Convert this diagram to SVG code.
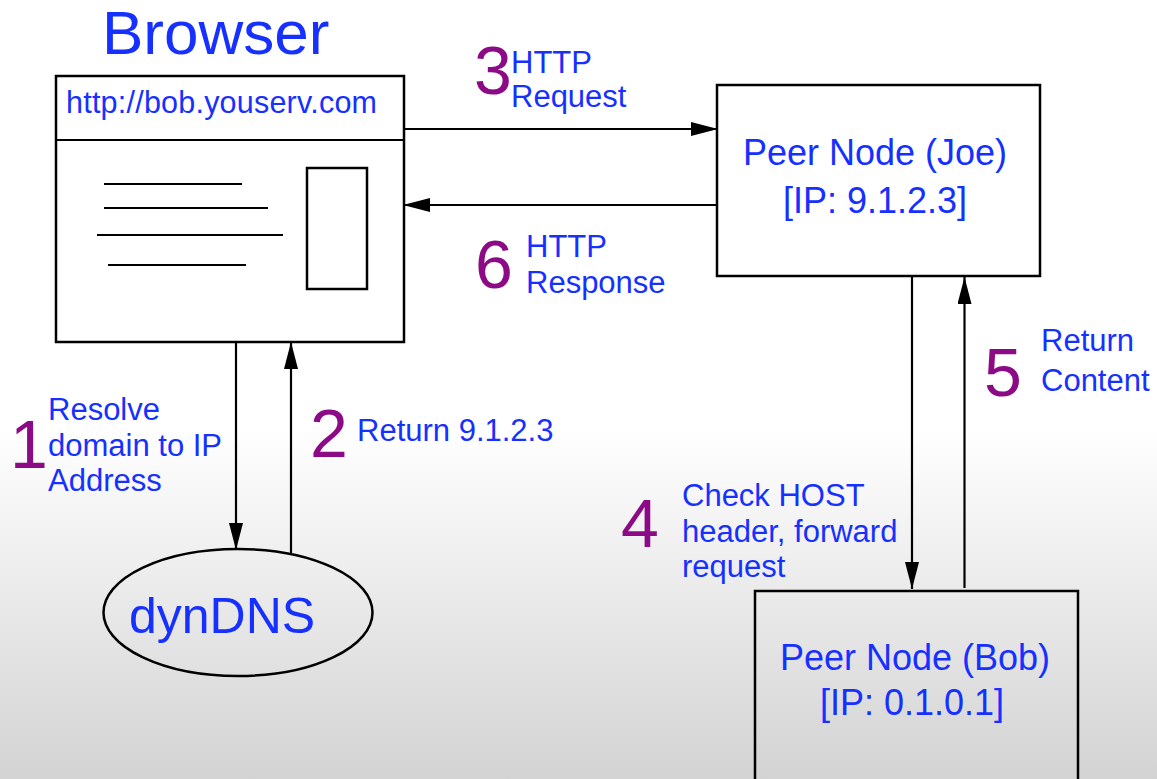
<svg xmlns="http://www.w3.org/2000/svg" width="1157" height="779" viewBox="0 0 1157 779">
<defs>
<linearGradient id="bg" x1="0" y1="0" x2="0" y2="779" gradientUnits="userSpaceOnUse">
<stop offset="0" stop-color="#ffffff"/>
<stop offset="0.55" stop-color="#ffffff"/>
<stop offset="1" stop-color="#d3d3d3"/>
</linearGradient>
<marker id="ah" markerUnits="userSpaceOnUse" markerWidth="28" markerHeight="14" refX="27" refY="7" orient="auto">
<path d="M0,0 L27,7 L0,14 z" fill="#000"/>
</marker>
<style>
.box{fill:none;stroke:#000;stroke-width:2.5}
.ln{stroke:#000;stroke-width:2.2;fill:none}
.con{stroke:#000;stroke-width:2.2;fill:none;marker-end:url(#ah)}
.t{font-family:"Liberation Sans",Arial,sans-serif;fill:#1630ff}
.lbl{font-family:"Liberation Sans",Arial,sans-serif;fill:#1630ff;font-size:31px}
.num{font-family:"Liberation Sans",Arial,sans-serif;fill:#8c0a86;font-size:68px}
</style>
</defs>
<rect x="0" y="0" width="1157" height="779" fill="url(#bg)"/>
<g id="browser">
<text class="t" x="102" y="54" font-size="62">Browser</text>
<rect x="56" y="76" width="348" height="266" fill="#fff" stroke="#000" stroke-width="2.5"/>
<line class="ln" x1="56" y1="140" x2="404" y2="140"/>
<text class="t" x="66" y="113" font-size="30.5" textLength="311">http://bob.youserv.com</text>
<line class="ln" x1="104" y1="184" x2="242" y2="184"/>
<line class="ln" x1="104" y1="208" x2="268" y2="208"/>
<line class="ln" x1="97" y1="235" x2="283" y2="235"/>
<line class="ln" x1="108" y1="265" x2="246" y2="265"/>
<rect class="box" x="307" y="168" width="60" height="121"/>
</g>
<g id="dyndns">
<ellipse cx="238" cy="612.5" rx="134.5" ry="63.5" fill="none" stroke="#000" stroke-width="2.5"/>
<text class="t" x="129" y="633" font-size="50">dynDNS</text>
</g>
<g id="joe">
<rect class="box" x="717" y="85" width="323" height="191"/>
<text class="t" x="875" y="165" font-size="36" text-anchor="middle">Peer Node (Joe)</text>
<text class="t" x="875" y="213" font-size="36" text-anchor="middle">[IP: 9.1.2.3]</text>
</g>
<g id="bob">
<rect class="box" x="755" y="591" width="323" height="200"/>
<text class="t" x="915" y="670" font-size="36" text-anchor="middle">Peer Node (Bob)</text>
<text class="t" x="912" y="715" font-size="36" text-anchor="middle">[IP: 0.1.0.1]</text>
</g>
<g id="connectors">
<line class="con" x1="405" y1="129" x2="718" y2="129"/>
<line class="con" x1="717" y1="205" x2="403" y2="205"/>
<line class="con" x1="236" y1="342" x2="236" y2="550"/>
<line class="con" x1="291" y1="553" x2="291" y2="342"/>
<line class="con" x1="912" y1="276" x2="912" y2="589"/>
<line class="con" x1="964.5" y1="588" x2="964.5" y2="277"/>
</g>
<g id="labels">
<text class="num" x="10" y="468">1</text>
<text class="lbl" x="48" y="420">Resolve</text>
<text class="lbl" x="48" y="456">domain to IP</text>
<text class="lbl" x="48" y="491">Address</text>
<text class="num" x="310" y="457">2</text>
<text class="lbl" x="357" y="441">Return 9.1.2.3</text>
<text class="num" x="474" y="94">3</text>
<text class="lbl" x="511" y="73">HTTP</text>
<text class="lbl" x="511" y="107">Request</text>
<text class="num" x="475" y="288">6</text>
<text class="lbl" x="526" y="257">HTTP</text>
<text class="lbl" x="526" y="293">Response</text>
<text class="num" x="621" y="547">4</text>
<text class="lbl" x="682" y="506">Check HOST</text>
<text class="lbl" x="682" y="542">header, forward</text>
<text class="lbl" x="682" y="577">request</text>
<text class="num" x="984" y="396">5</text>
<text class="lbl" x="1041" y="351">Return</text>
<text class="lbl" x="1041" y="391">Content</text>
</g>
</svg>
